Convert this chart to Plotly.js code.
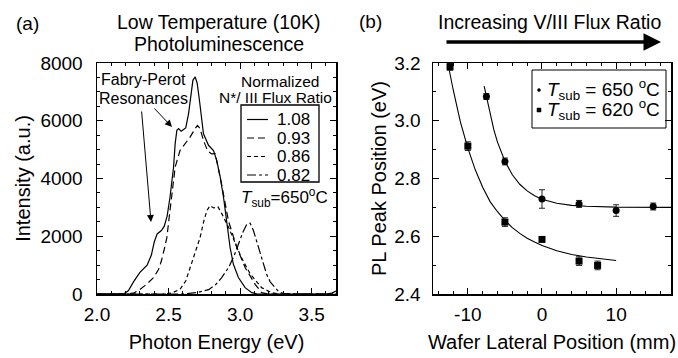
<!DOCTYPE html>
<html>
<head>
<meta charset="utf-8">
<script src="https://cdn.plot.ly/plotly-3.0.1.min.js"></script>
<style>html,body{margin:0;padding:0;background:#fff;}#chart{width:678px;height:358px;}</style>
</head>
<body>
<div id="chart"></div>
<script>
// ---------- Panel (a): PL spectra ----------
const e108 = [2.00, 2.15, 2.19, 2.22, 2.255, 2.30, 2.35, 2.38, 2.40, 2.42, 2.45, 2.47, 2.49, 2.51, 2.52, 2.535, 2.546, 2.558, 2.57, 2.588, 2.605, 2.62, 2.64, 2.656, 2.67, 2.686, 2.70, 2.716, 2.733, 2.744, 2.779, 2.814, 2.837, 2.861, 2.884, 2.905, 2.93, 2.953, 2.988, 3.035, 3.082, 3.12, 3.60, 3.64, 3.67];
const i108 = [0, 0, 10, 120, 420, 750, 1000, 1350, 1800, 2080, 2200, 2350, 2700, 3350, 3800, 4400, 5200, 5670, 5730, 5640, 5700, 5750, 6250, 6950, 7400, 7520, 7300, 6700, 6000, 5550, 5150, 4970, 4620, 4050, 3350, 2540, 1610, 1030, 570, 220, 45, 0, 0, 30, 100];

const e093 = [2.00, 2.22, 2.26, 2.30, 2.35, 2.395, 2.43, 2.45, 2.47, 2.488, 2.51, 2.533, 2.546, 2.58, 2.616, 2.651, 2.686, 2.702, 2.72, 2.744, 2.772, 2.80, 2.826, 2.87, 2.918, 2.977, 3.035, 3.105, 3.15, 3.20, 3.67];
const i093 = [0, 0, 40, 160, 350, 570, 850, 1150, 1550, 1950, 2890, 3930, 4390, 4970, 5200, 5440, 5730, 5840, 5730, 5320, 4970, 4850, 4860, 3815, 2540, 1610, 915, 336, 45, 0, 0];

const e086 = [2.00, 2.45, 2.52, 2.58, 2.62, 2.65, 2.69, 2.72, 2.745, 2.768, 2.79, 2.815, 2.845, 2.87, 2.92, 2.965, 3.01, 3.07, 3.15, 3.22, 3.28, 3.67];
const i086 = [0, 0, 30, 160, 450, 900, 1500, 1950, 2500, 2890, 3060, 2980, 3020, 2800, 2300, 1750, 1250, 700, 220, 45, 0, 0];

const e082 = [2.00, 2.60, 2.70, 2.78, 2.83, 2.87, 2.92, 2.96, 2.99, 3.02, 3.047, 3.07, 3.093, 3.12, 3.15, 3.184, 3.21, 3.244, 3.27, 3.30, 3.35, 3.67];
const i082 = [0, 0, 50, 150, 330, 560, 920, 1350, 1750, 2150, 2420, 2450, 2200, 1750, 1250, 700, 420, 220, 80, 20, 0, 0];

const ratioLabels = ["1.08", "0.93", "0.86", "0.82"];

// ---------- Panel (b): PL peak position ----------
const pos650 = [-7.5, -5, 0, 5, 10, 15];
const peak650 = [3.084, 2.859, 2.729, 2.712, 2.689, 2.703];
const err650 = [0.010, 0.012, 0.032, 0.012, 0.020, 0.012];

const pos620 = [-12.4, -10, -5, 0, 5, 7.5];
const peak620 = [3.187, 2.912, 2.649, 2.589, 2.514, 2.499];
const err620 = [0.012, 0.015, 0.015, 0.008, 0.015, 0.015];

const fit650x = [-7.8, -7, -6.5, -6, -5.5, -5, -4, -3, -2, -1, 0, 1, 2, 4, 6, 10, 17.4];
const fit650y = [3.12, 3.02, 2.969, 2.926, 2.89, 2.86, 2.813, 2.78, 2.757, 2.74, 2.728, 2.72, 2.714, 2.707, 2.704, 2.701, 2.700];

const fit620x = [-12.7, -12, -11, -10, -9, -8, -7, -6, -5, -4, -3, -2, -1, 0, 2, 4, 6, 8, 10];
const fit620y = [3.20, 3.11, 2.995, 2.905, 2.83, 2.77, 2.72, 2.685, 2.655, 2.63, 2.61, 2.593, 2.58, 2.568, 2.55, 2.537, 2.528, 2.521, 2.516];

// tick labels
const xTicksA = [2.0, 2.5, 3.0, 3.5];
const xTickTextA = ["2.0", "2.5", "3.0", "3.5"];
const yTicksA = [0, 2000, 4000, 6000, 8000];
const yTickTextA = ["0", "2000", "4000", "6000", "8000"];
const xTicksB = [-10, 0, 10];
const xTickTextB = ["-10", "0", "10"];
const yTicksB = [2.4, 2.6, 2.8, 3.0, 3.2];
const yTickTextB = ["2.4", "2.6", "2.8", "3.0", "3.2"];

// ---------- layout geometry ----------
const W = 678, H = 358, ML = 97, MR = 7, MT = 63, MB = 64;
const PW = W - ML - MR, PH = H - MT - MB;
const fx = px => (px - ML) / PW;
const fy = py => (H - MB - py) / PH;
const FONT = "Liberation Sans, Arial, Helvetica, sans-serif";

const dashes = ["solid", "7px,4px", "4px,3px", "9px,3px,3px,3px"];
const lw = 1.2;

const traces = [
  {x: e108, y: i108, mode: "lines", line: {color: "black", width: lw, dash: dashes[0]}, xaxis: "x", yaxis: "y", name: ratioLabels[0]},
  {x: e093, y: i093, mode: "lines", line: {color: "black", width: lw, dash: dashes[1]}, xaxis: "x", yaxis: "y", name: ratioLabels[1]},
  {x: e086, y: i086, mode: "lines", line: {color: "black", width: lw, dash: dashes[2]}, xaxis: "x", yaxis: "y", name: ratioLabels[2]},
  {x: e082, y: i082, mode: "lines", line: {color: "black", width: lw, dash: dashes[3]}, xaxis: "x", yaxis: "y", name: ratioLabels[3]},
  {x: fit650x, y: fit650y, mode: "lines", line: {color: "black", width: 1.1}, xaxis: "x2", yaxis: "y2"},
  {x: fit620x, y: fit620y, mode: "lines", line: {color: "black", width: 1.1}, xaxis: "x2", yaxis: "y2"},
  {x: pos650, y: peak650, mode: "markers", marker: {symbol: "circle", size: 7, color: "black"},
   error_y: {type: "data", array: err650, visible: true, color: "#222", thickness: 1, width: 3}, xaxis: "x2", yaxis: "y2"},
  {x: pos620, y: peak620, mode: "markers", marker: {symbol: "square", size: 7, color: "black"},
   error_y: {type: "data", array: err620, visible: true, color: "#222", thickness: 1, width: 3}, xaxis: "x2", yaxis: "y2"}
];

const axisCommon = {
  showline: true, linecolor: "black", linewidth: 1.5, mirror: "ticks",
  ticks: "inside", ticklen: 6, tickwidth: 1, tickcolor: "black",
  showgrid: false, zeroline: false, tickfont: {size: 19, color: "black"}
};

const annotations = [];
function txt(text, px, py, size, xanchor) {
  annotations.push({text: text, x: fx(px), y: fy(py), xref: "paper", yref: "paper",
    xanchor: xanchor || "center", yanchor: "middle", showarrow: false, font: {size: size, color: "black"}});
}
function arrow(tipX, tipY, tailX, tailY, width, size) {
  annotations.push({text: "", x: fx(tipX), y: fy(tipY), xref: "paper", yref: "paper",
    ax: tailX - tipX, ay: tailY - tipY, showarrow: true, arrowhead: 2, arrowwidth: width,
    arrowsize: size, arrowcolor: "black", standoff: 0, startstandoff: 0});
}

txt("(a)", 27, 23, 19);
txt("Low Temperature (10K)", 218, 22, 19.5);
txt("Photoluminescence", 219, 44, 19.5);
txt("Fabry-Perot", 143, 80, 16);
txt("Resonances", 143, 98, 16);
arrow(151, 222, 141.5, 110, 1, 1.4);
arrow(172, 127, 153, 107, 1, 1.4);
txt("Normalized", 280, 81, 15.5);
txt("N*/ III Flux Ratio", 275, 97.5, 15.5);
const legY = [119.5, 138, 156.5, 175];
ratioLabels.forEach((lab, k) => txt(lab, 275, legY[k], 17, "left"));
txt("<i>T</i><sub>sub</sub>=650<sup>o</sup>C", 239, 197, 17, "left");

txt("(b)", 370, 22, 19);
txt("Increasing V/III Flux Ratio", 549, 22, 19.5);
arrow(661, 42, 445, 42, 3.5, 1);
txt("<i>T</i><sub>sub</sub> = 650 <sup>o</sup>C", 545, 89, 19, "left");
txt("<i>T</i><sub>sub</sub> = 620 <sup>o</sup>C", 545, 109, 19, "left");

const shapes = [
  {type: "rect", xref: "paper", yref: "paper", x0: fx(241), x1: fx(319), y0: fy(105), y1: fy(182), line: {color: "black", width: 1.3}},
  {type: "rect", xref: "paper", yref: "paper", x0: fx(532), x1: fx(666), y0: fy(70), y1: fy(128), line: {color: "black", width: 1}},
  {type: "circle", xref: "paper", yref: "paper", x0: fx(537.5), x1: fx(540.5), y0: fy(88.5), y1: fy(91.5), fillcolor: "black", line: {color: "black", width: 0.5}},
  {type: "rect", xref: "paper", yref: "paper", x0: fx(537), x1: fx(541), y0: fy(108), y1: fy(112), fillcolor: "black", line: {color: "black", width: 0.5}}
];
dashes.forEach((d, k) => shapes.push({type: "line", xref: "paper", yref: "paper",
  x0: fx(247), x1: fx(268), y0: fy(legY[k]), y1: fy(legY[k]), line: {color: "black", width: 1.2, dash: d}}));

const layout = {
  width: W, height: H,
  margin: {l: ML, r: MR, t: MT, b: MB},
  paper_bgcolor: "white", plot_bgcolor: "white",
  font: {family: FONT, color: "black", size: 19},
  showlegend: false,
  xaxis: Object.assign({}, axisCommon, {
    domain: [0, fx(336)], range: [2.0, 3.67], anchor: "y",
    tickmode: "array", tickvals: xTicksA, ticktext: xTickTextA, ticklabelstandoff: 3,
    minor: {tickmode: "linear", tick0: 2.0, dtick: 0.1, ticks: "inside", ticklen: 3, tickcolor: "black", showgrid: false},
    title: {text: "Photon Energy (eV)", font: {size: 20}, standoff: 10}
  }),
  yaxis: Object.assign({}, axisCommon, {
    domain: [0, 1], range: [0, 8000], anchor: "x",
    tickmode: "array", tickvals: yTicksA, ticktext: yTickTextA, ticklabelstandoff: 9,
    minor: {tickmode: "linear", tick0: 0, dtick: 500, ticks: "inside", ticklen: 3, tickcolor: "black", showgrid: false},
    title: {text: "Intensity (a.u.)", font: {size: 20}, standoff: 4}
  }),
  xaxis2: Object.assign({}, axisCommon, {
    domain: [fx(433), 1], range: [-14.7, 17.4], anchor: "y2",
    tickmode: "array", tickvals: xTicksB, ticktext: xTickTextB, ticklabelstandoff: 3,
    minor: {tickmode: "linear", tick0: 0, dtick: 2, ticks: "inside", ticklen: 3, tickcolor: "black", showgrid: false},
    title: {text: "Wafer Lateral Position (mm)", font: {size: 20}, standoff: 10}
  }),
  yaxis2: Object.assign({}, axisCommon, {
    domain: [0, 1], range: [2.4, 3.2], anchor: "x2",
    tickmode: "array", tickvals: yTicksB, ticktext: yTickTextB, ticklabelstandoff: 7,
    minor: {tickmode: "linear", tick0: 2.4, dtick: 0.1, ticks: "inside", ticklen: 3, tickcolor: "black", showgrid: false},
    title: {text: "PL Peak Position (eV)", font: {size: 20}, standoff: 2}
  }),
  annotations: annotations,
  shapes: shapes
};

Plotly.newPlot("chart", traces, layout, {displayModeBar: false, staticPlot: true});
</script>
</body>
</html>
